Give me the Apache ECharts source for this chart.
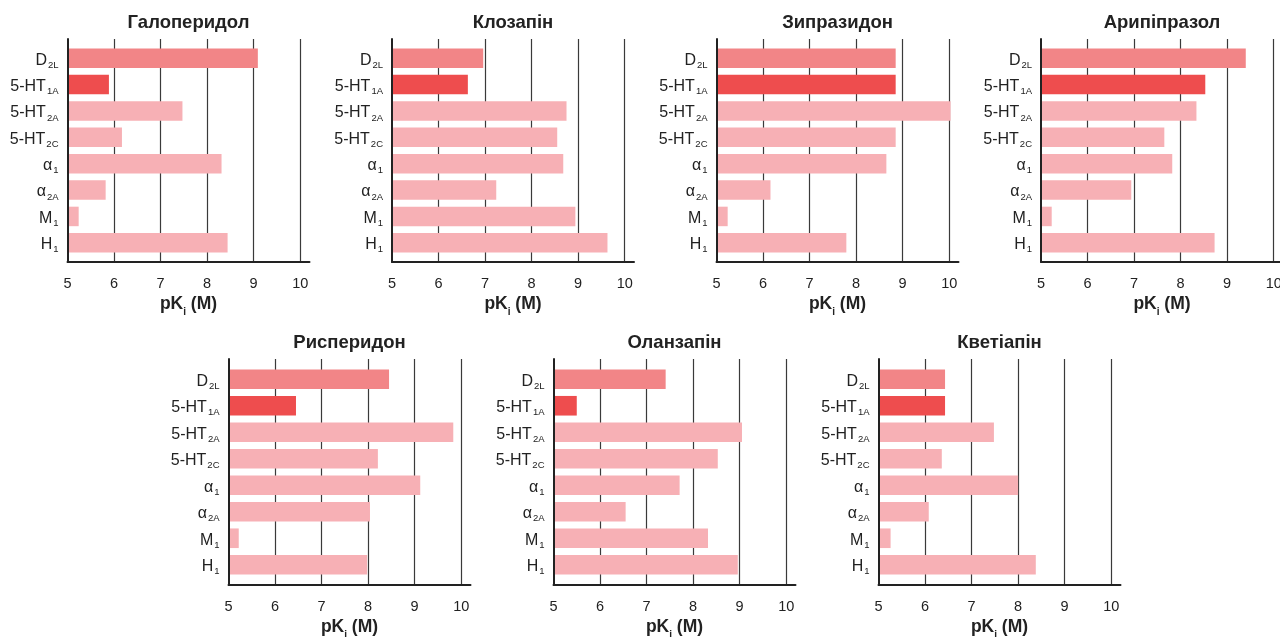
<!DOCTYPE html>
<html><head><meta charset="utf-8">
<script src="https://cdn.jsdelivr.net/npm/echarts@6/dist/echarts.min.js"></script>
<style>html,body{margin:0;padding:0;background:#fff}#c{width:1280px;height:637px}</style>
</head><body><div id="c"></div>
<script>
// ---- data ----
const drugs = ['Галоперидол','Клозапін','Зипразидон','Арипіпразол','Рисперидон','Оланзапін','Кветіапін'];
const receptorMain = ['D','5-HT','5-HT','5-HT','α','α','M','H'];
const receptorSub  = ['2L','1A','2A','2C','1','2A','1','1'];
const haloperidol  = [9.09, 5.89, 7.47, 6.17, 8.31, 5.82, 5.24, 8.44];
const clozapine    = [6.96, 6.63, 8.75, 8.55, 8.68, 7.24, 8.94, 9.63];
const ziprasidone  = [8.85, 8.85, 10.03, 8.85, 8.65, 6.16, 5.24, 7.79];
const aripiprazole = [9.40, 8.53, 8.34, 7.65, 7.82, 6.94, 5.23, 8.73];
const risperidone  = [8.45, 6.45, 9.83, 8.21, 9.12, 8.04, 5.22, 7.98];
const olanzapine   = [7.41, 5.50, 9.05, 8.53, 7.71, 6.55, 8.32, 8.96];
const quetiapine   = [6.43, 6.43, 7.48, 6.36, 8.00, 6.08, 5.26, 8.38];
const xTicks = [5, 6, 7, 8, 9, 10];
const axisName = ['pK', 'i', ' (M)'];

const allValues = [haloperidol, clozapine, ziprasidone, aripiprazole, risperidone, olanzapine, quetiapine];

// ---- styling / layout ----
const barColors = ['#f28587', '#ee4d4e', '#f7b0b5', '#f7b0b5', '#f7b0b5', '#f7b0b5', '#f7b0b5', '#f7b0b5'];
const panelLeft = [67.5, 392, 716.5, 1041, 228.5, 553.5, 878.5];
const panelRow  = [0, 0, 0, 0, 1, 1, 1];
const frameTop = [39, 359], frameH = [223, 226];
const barTop = [45, 366], barH = [211, 212];
const titleTop = [13.5, 333.5];
const W = 242;
const xMin = xTicks[0], xMax = 10.2;
const FONT = '"Liberation Sans", Arial, Helvetica, sans-serif';
const ink = '#222';

const grid = [], xAxis = [], yAxis = [], series = [], title = [];
const n = drugs.length;
for (let i = 0; i < n; i++) {
  const r = panelRow[i];
  grid.push({left: panelLeft[i], top: frameTop[r], width: W, height: frameH[r], outerBoundsMode: 'none', containLabel: false});
  xAxis.push({
    gridIndex: i, type: 'value', min: xMin, max: xMax, interval: 1, z: 0,
    axisLine: {show: true, onZero: false, lineStyle: {color: ink, width: 2}},
    axisTick: {show: false},
    splitLine: {show: true, showMinLine: false, showMaxLine: false, lineStyle: {color: '#3a3a3a', width: 1.2}},
    axisLabel: {show: true, showMaxLabel: false, fontSize: 14.5, color: ink, fontFamily: FONT, margin: 14,
      formatter: v => (xTicks.indexOf(v) >= 0 ? String(v) : '')},
    name: '{b|' + axisName[0] + '}{s|' + axisName[1] + '}{b|' + axisName[2] + '}',
    nameLocation: 'middle', nameGap: 33,
    nameTextStyle: {fontFamily: FONT, rich: {
      b: {fontSize: 17.5, fontWeight: 'bold', color: ink, fontFamily: FONT, lineHeight: 20, verticalAlign: 'top'},
      s: {fontSize: 10, fontWeight: 'bold', color: ink, fontFamily: FONT, lineHeight: 10, verticalAlign: 'top', padding: [12, 0, 0, 0]}
    }}
  });
  yAxis.push({
    gridIndex: i, type: 'value', min: 0, max: 1, z: 5,
    axisLine: {show: true, onZero: false, lineStyle: {color: ink, width: 2}},
    axisTick: {show: false}, axisLabel: {show: false}, splitLine: {show: false}
  });
  title.push({
    text: drugs[i], left: panelLeft[i] + W / 2, top: titleTop[r], textAlign: 'center', padding: 0,
    textStyle: {fontSize: 18.5, fontWeight: 'bold', color: ink, fontFamily: FONT}
  });
}
for (let i = 0; i < n; i++) {
  const r = panelRow[i];
  grid.push({left: panelLeft[i], top: barTop[r], width: W, height: barH[r], outerBoundsMode: 'none', containLabel: false});
  xAxis.push({gridIndex: n + i, type: 'value', min: xMin, max: xMax, startValue: xMin, show: false});
  yAxis.push({
    gridIndex: n + i, type: 'category', inverse: true,
    data: receptorMain.map((m, j) => m + receptorSub[j]),
    axisLine: {show: false}, axisTick: {show: false}, splitLine: {show: false},
    axisLabel: {
      margin: 9, fontFamily: FONT,
      formatter: (v, j) => '{m|' + receptorMain[j] + '}{s|' + receptorSub[j] + '}',
      rich: {
        m: {fontSize: 16, color: ink, fontFamily: FONT, lineHeight: 18, verticalAlign: 'top', padding: [3, 0, 0, 0]},
        s: {fontSize: 9.5, color: ink, fontFamily: FONT, lineHeight: 10, verticalAlign: 'top', padding: [11, 0, 0, 1]}
      }
    }
  });
  series.push({
    type: 'bar', xAxisIndex: n + i, yAxisIndex: n + i, silent: true, clip: true,
    barCategoryGap: '26%', z: 2,
    data: allValues[i].map((v, j) => ({value: v, itemStyle: {color: barColors[j]}}))
  });
}

const chart = echarts.init(document.getElementById('c'), null, {renderer: 'canvas'});
chart.setOption({animation: false, backgroundColor: '#fff', title, grid, xAxis, yAxis, series});
</script></body></html>
